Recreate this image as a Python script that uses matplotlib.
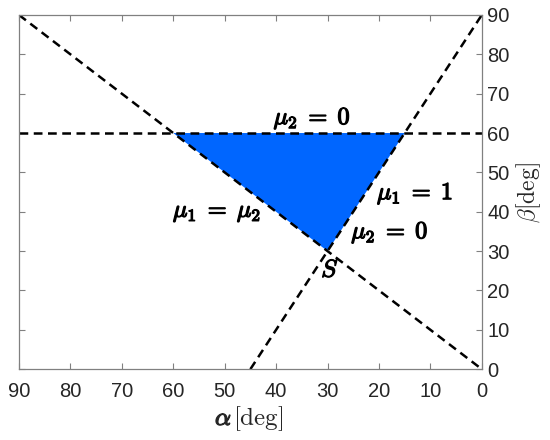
"""
Feasible region in the (alpha, beta) plane bounded by the mu lines.
"""

import matplotlib
matplotlib.use("Agg")
import matplotlib.pyplot as plt
import matplotlib.patheffects as pe

plt.rcParams['font.family'] = ['Liberation Sans', 'DejaVu Sans']
plt.rcParams['mathtext.fontset'] = 'cm'

# boundary lines, endpoints in degrees
eq_alpha = [90, 0]          # mu1 = mu2
eq_beta = [90, 0]
mu2_alpha = [90, 0]         # mu2 = 0 (horizontal)
mu2_beta = [60, 60]
mu1_alpha = [45, 0]         # mu1 = 1 / mu2 = 0
mu1_beta = [0, 90]

# shaded region vertices
region_alpha = [60, 15, 30]
region_beta = [60, 60, 30]

# annotations: text, alpha, beta
labels = [
    (r'$\mu_2\;=\;0$', 33, 63.8),
    (r'$\mu_1\;=\;1$', 13, 44.7),
    (r'$\mu_1\;=\;\mu_2$', 51.5, 39.7),
    (r'$\mu_2\;=\;0$', 17.9, 34.8),
    (r'$S$', 29.5, 25.0),
]
ticks = list(range(0, 91, 10))

fig = plt.figure(figsize=(5.5, 4.4), dpi=100)
ax = fig.add_axes([0.0345, 0.161, 0.8415, 0.805])

ax.fill(region_alpha, region_beta, color='#0066ff', lw=0, zorder=1)

dash = dict(color='black', lw=1.8, dashes=(3.5, 2.2), zorder=2)
ax.plot(eq_alpha, eq_beta, **dash)
ax.plot(mu2_alpha, mu2_beta, **dash)
ax.plot(mu1_alpha, mu1_beta, **dash)

# fake bold math with a thin stroke
bold = [pe.withStroke(linewidth=0.9, foreground='black')]
for txt, a, b in labels:
    ax.text(a, b, txt, ha='center', va='center', fontsize=17.5, zorder=3,
            path_effects=bold)

ax.set_xlim(90, 0)
ax.set_ylim(0, 90)
ax.set_xticks(ticks)
ax.set_yticks(ticks)

ax.yaxis.tick_right()
ax.yaxis.set_label_position('right')
ax.tick_params(axis='both', which='both', direction='in', top=True, bottom=True,
               left=True, right=True, length=4, width=0.8, color='#808080',
               labelsize=14.5, labelcolor='#262626')
ax.tick_params(axis='x', pad=9)
ax.tick_params(axis='y', pad=4)
for s in ax.spines.values():
    s.set_color('#808080')
    s.set_linewidth(0.9)

# x label: bold alpha followed by regular [deg]
fig.text(232 / 550, 0.034, r'$\alpha$', fontsize=18, ha='right', va='baseline',
         color='#262626', path_effects=[pe.withStroke(linewidth=0.9, foreground='#262626')])
fig.text(233 / 550, 0.034, r'$[\mathrm{deg}]$', fontsize=18, ha='left', va='baseline',
         color='#262626')
ax.set_ylabel(r'$\beta[\mathrm{deg}]$', fontsize=17, labelpad=3, color='#262626')

fig.savefig('out.png', dpi=100)
